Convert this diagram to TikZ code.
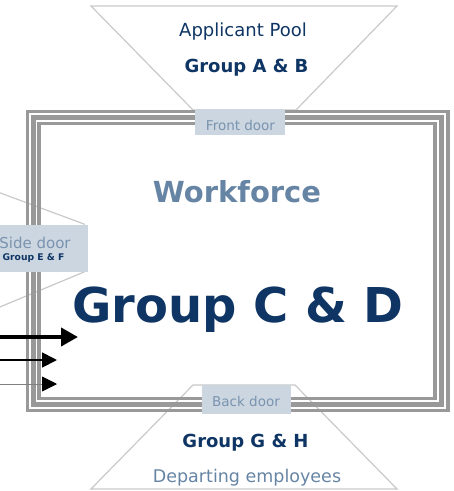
\documentclass[tikz,border=0pt]{standalone}
\usepackage{fontspec}
\setmainfont{DejaVu Sans}
\usetikzlibrary{arrows.meta}
\definecolor{darkblue}{HTML}{0F3564}
\definecolor{midblue}{HTML}{6684A4}
\definecolor{doorfill}{HTML}{CBD6E1}
\definecolor{doortext}{HTML}{7A93AE}
\definecolor{framegray}{HTML}{999999}
\definecolor{traplight}{HTML}{C9C9C9}
\tikzset{
  trapline/.style={draw=traplight, line width=1.2pt},
  frameline/.style={draw=framegray},
  doorbox/.style={fill=doorfill, inner sep=0pt, anchor=north west},
  doorlabel/.style={text=doortext, font=\fontsize{13.5}{15}\selectfont, anchor=base, inner sep=0pt},
  bigtext/.style={anchor=base, inner sep=0pt},
}
\begin{document}
\begin{tikzpicture}[x=1pt,y=-1pt]
\useasboundingbox (0,0) rectangle (454,491);
% trapezoid corner coordinates
\coordinate (t1) at (91,6);
\coordinate (t2) at (397,6);
\coordinate (t3) at (296,110);
\coordinate (t4) at (193,110);
\coordinate (b1) at (193,385);
\coordinate (b2) at (295,385);
\coordinate (b3) at (397,489);
\coordinate (b4) at (91,489);
\coordinate (s1) at (-5,191);
\coordinate (s2) at (84,224);
\coordinate (s3) at (84,272);
\coordinate (s4) at (-5,309);
% frame background
\fill[white] (27.5,111.3) rectangle (447.7,410.5);
% trapezoids
\draw[trapline] (t1) -- (t2) -- (t3) -- (t4) -- cycle;
\draw[trapline] (b1) -- (b2) -- (b3) -- (b4) -- cycle;
\draw[trapline] (s1) -- (s2) -- (s3) -- (s4);
% frame
\draw[frameline, line width=3.6pt] (27.5,111.3) rectangle (447.7,410.5);
\draw[frameline, line width=4.6pt] (33.5,117.7) rectangle (441.7,404.2);
\draw[frameline, line width=3.2pt] (39,123.7) rectangle (435,398.7);
% doors
\node[doorbox, minimum width=90pt, minimum height=26pt] (front) at (195,109) {};
\node[doorbox, minimum width=89pt, minimum height=29pt] (back) at (202,385) {};
\node[doorbox, minimum width=108pt, minimum height=47pt] (side) at (-20,225) {};
\node[doorlabel] (frontlbl) at (240.5,130) {Front door};
\node[doorlabel] (backlbl) at (246,406) {Back door};
\node[doorlabel, font=\fontsize{15}{16}\selectfont] (sidelbl) at (35,248.3) {Side door};
\node[bigtext, text=darkblue, font=\bfseries\fontsize{9.2}{10}\selectfont] (sidegrp) at (33.5,260) {Group E \& F};
% texts
\node[bigtext, text=darkblue, font=\fontsize{18}{20}\selectfont] (pool) at (243,36) {Applicant Pool};
\node[bigtext, text=darkblue, font=\bfseries\fontsize{18}{20}\selectfont] (grpab) at (246.5,72) {Group A \& B};
\node[bigtext, text=midblue, font=\bfseries\fontsize{29}{32}\selectfont] (work) at (237,202) {Workforce};
\node[bigtext, text=darkblue, font=\bfseries\fontsize{48}{52}\selectfont] (grpcd) at (238,322) {Group C \& D};
\node[bigtext, text=darkblue, font=\bfseries\fontsize{18}{20}\selectfont] (grpgh) at (245.5,447) {Group G \& H};
\node[bigtext, text=midblue, font=\fontsize{17.5}{20}\selectfont] (depart) at (247,482) {Departing employees};
% arrows
\coordinate (a1s) at (0,337);
\coordinate (a1e) at (78,337);
\coordinate (a2s) at (0,360);
\coordinate (a2e) at (57,360);
\coordinate (a3s) at (0,384);
\coordinate (a3e) at (57,384);
\draw[line width=4pt, -{Triangle[length=17pt,width=18pt]}] (a1s) -- (a1e);
\draw[line width=1.8pt, -{Triangle[length=15pt,width=15pt]}] (a2s) -- (a2e);
\draw[line width=0.9pt, draw=gray, -{Triangle[length=15pt,width=15pt,black]}] (a3s) -- (a3e);
\end{tikzpicture}
\end{document}
